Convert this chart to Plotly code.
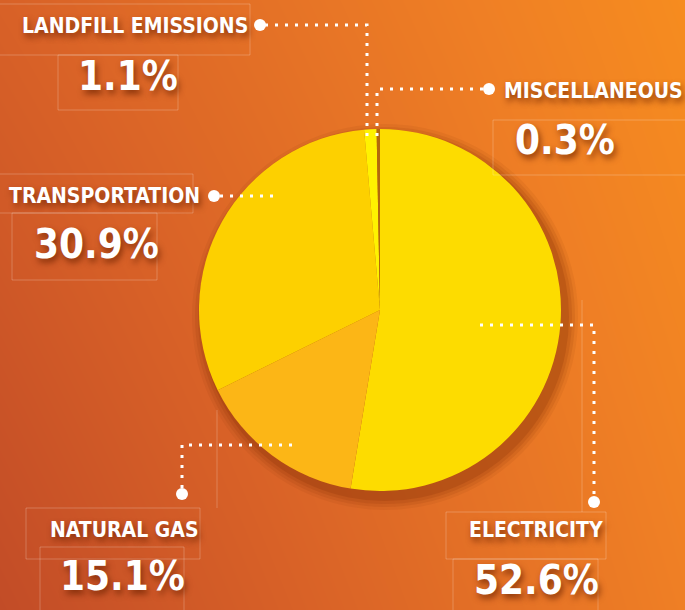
import plotly.graph_objects as go

# data
sectors = ["Electricity", "Natural Gas", "Transportation", "Landfill Emissions", "Miscellaneous"]
shares = [52.6, 15.1, 30.9, 1.1, 0.3]
slice_colors = ["#FDDC00", "#FCB616", "#FDD000", "#FFF200", "#B36A0C"]
label_text = ["ELECTRICITY", "NATURAL GAS", "TRANSPORTATION", "LANDFILL EMISSIONS", "MISCELLANEOUS"]

W, H = 685, 610
cx, cy, r = 380, 310, 181

FONT = "DejaVu Sans Condensed, Liberation Sans Narrow, sans-serif"
SHADOW = "2px 4px 6px rgba(110,35,0,0.75)"

fig = go.Figure()

# orange gradient background
fig.add_trace(go.Heatmap(
    x=[0, W], y=[H, 0], z=[[0.0, 0.8], [0.35, 1.0]],
    zsmooth="best", showscale=False, hoverinfo="skip",
    colorscale=[[0, "#C24C27"], [0.35, "#D86127"], [0.8, "#EF7F25"], [1, "#F68C1F"]],
    xaxis="x2", yaxis="y2",
))


def dom(px_x0, px_x1, px_y0, px_y1):
    return dict(x=[px_x0 / W, px_x1 / W], y=[1 - px_y1 / H, 1 - px_y0 / H])


# soft shadow under the pie
for k, a in [(12, 0.07), (9, 0.10), (6, 0.13), (3, 0.18)]:
    fig.add_trace(go.Pie(
        values=[1], marker=dict(colors=[f"rgba(120,40,0,{a})"]), textinfo="none",
        hoverinfo="skip", showlegend=False, sort=False,
        domain=dom(cx - r - k + 5, cx + r + k + 5, cy - r - k + 7, cy + r + k + 7),
    ))

fig.add_trace(go.Pie(
    labels=sectors, values=shares, sort=False, direction="clockwise", rotation=0,
    marker=dict(colors=slice_colors, line=dict(width=0)),
    textinfo="none", showlegend=False,
    domain=dom(cx - r, cx + r, cy - r, cy + r),
))

shapes = []
# faint box outlines
faint = dict(color="rgba(255,255,255,0.22)", width=1)
for x0, y0, x1, y1 in [(-2, 4, 250, 55), (58, 55, 178, 110), (-2, 174, 193, 213),
                       (12, 213, 157, 280), (26, 508, 200, 559), (40, 547, 184, 612),
                       (446, 512, 606, 559), (453, 559, 598, 612), (493, 120, 687, 175)]:
    shapes.append(dict(type="rect", xref="x2", yref="y2", x0=x0, y0=y0, x1=x1, y1=y1,
                       line=faint, layer="above"))
shapes.append(dict(type="line", xref="x2", yref="y2", x0=582, x1=582, y0=300, y1=512,
                   line=faint, layer="above"))
shapes.append(dict(type="line", xref="x2", yref="y2", x0=217, x1=217, y0=410, y1=508,
                   line=faint, layer="above"))

# dotted leader lines
dotted = dict(color="white", width=3, dash="3px,7px")
for path in ["M265,25 L367,25 L367,140", "M483,89 L377,89 L377,140",
             "M220,196 L278,196", "M182,488 L182,445 L298,445",
             "M480,325 L594,325 L594,496"]:
    shapes.append(dict(type="path", xref="x2", yref="y2", path=path, line=dotted, layer="above"))

# end dots
for x, y in [(260, 25), (489, 89), (214, 196), (182, 494), (594, 502)]:
    shapes.append(dict(type="circle", xref="x2", yref="y2", x0=x - 6, x1=x + 6, y0=y - 6, y1=y + 6,
                       fillcolor="white", line=dict(width=0), layer="above"))

# label positions (center x, center y) for name and value
name_pos = [(536, 530), (124, 530), (104, 196), (135, 26), (593, 91)]
value_pos = [(536, 580), (122, 576), (96, 244), (128, 76), (565, 140)]

annotations = []
for lab, val, (nx, ny), (vx, vy) in zip(label_text, shares, name_pos, value_pos):
    annotations.append(dict(x=nx, y=ny, xref="x2", yref="y2", text=lab, showarrow=False,
                            xanchor="center", yanchor="middle",
                            font=dict(family=FONT, size=21, color="white", weight="bold",
                                      shadow=SHADOW)))
    annotations.append(dict(x=vx, y=vy, xref="x2", yref="y2", text=f"{val:.1f}%", showarrow=False,
                            xanchor="center", yanchor="middle",
                            font=dict(family=FONT, size=40, color="white", weight="bold",
                                      shadow=SHADOW)))

fig.update_layout(
    width=W, height=H, margin=dict(l=0, r=0, t=0, b=0),
    paper_bgcolor="#E0692A", plot_bgcolor="#E0692A",
    showlegend=False,
    xaxis2=dict(domain=[0, 1], range=[0, W], visible=False, fixedrange=True, anchor="y2"),
    yaxis2=dict(domain=[0, 1], range=[H, 0], visible=False, fixedrange=True, anchor="x2"),
    shapes=shapes, annotations=annotations,
)

fig.write_html("out.html", config={"displayModeBar": False},
               post_script="document.body.style.margin='0';")
